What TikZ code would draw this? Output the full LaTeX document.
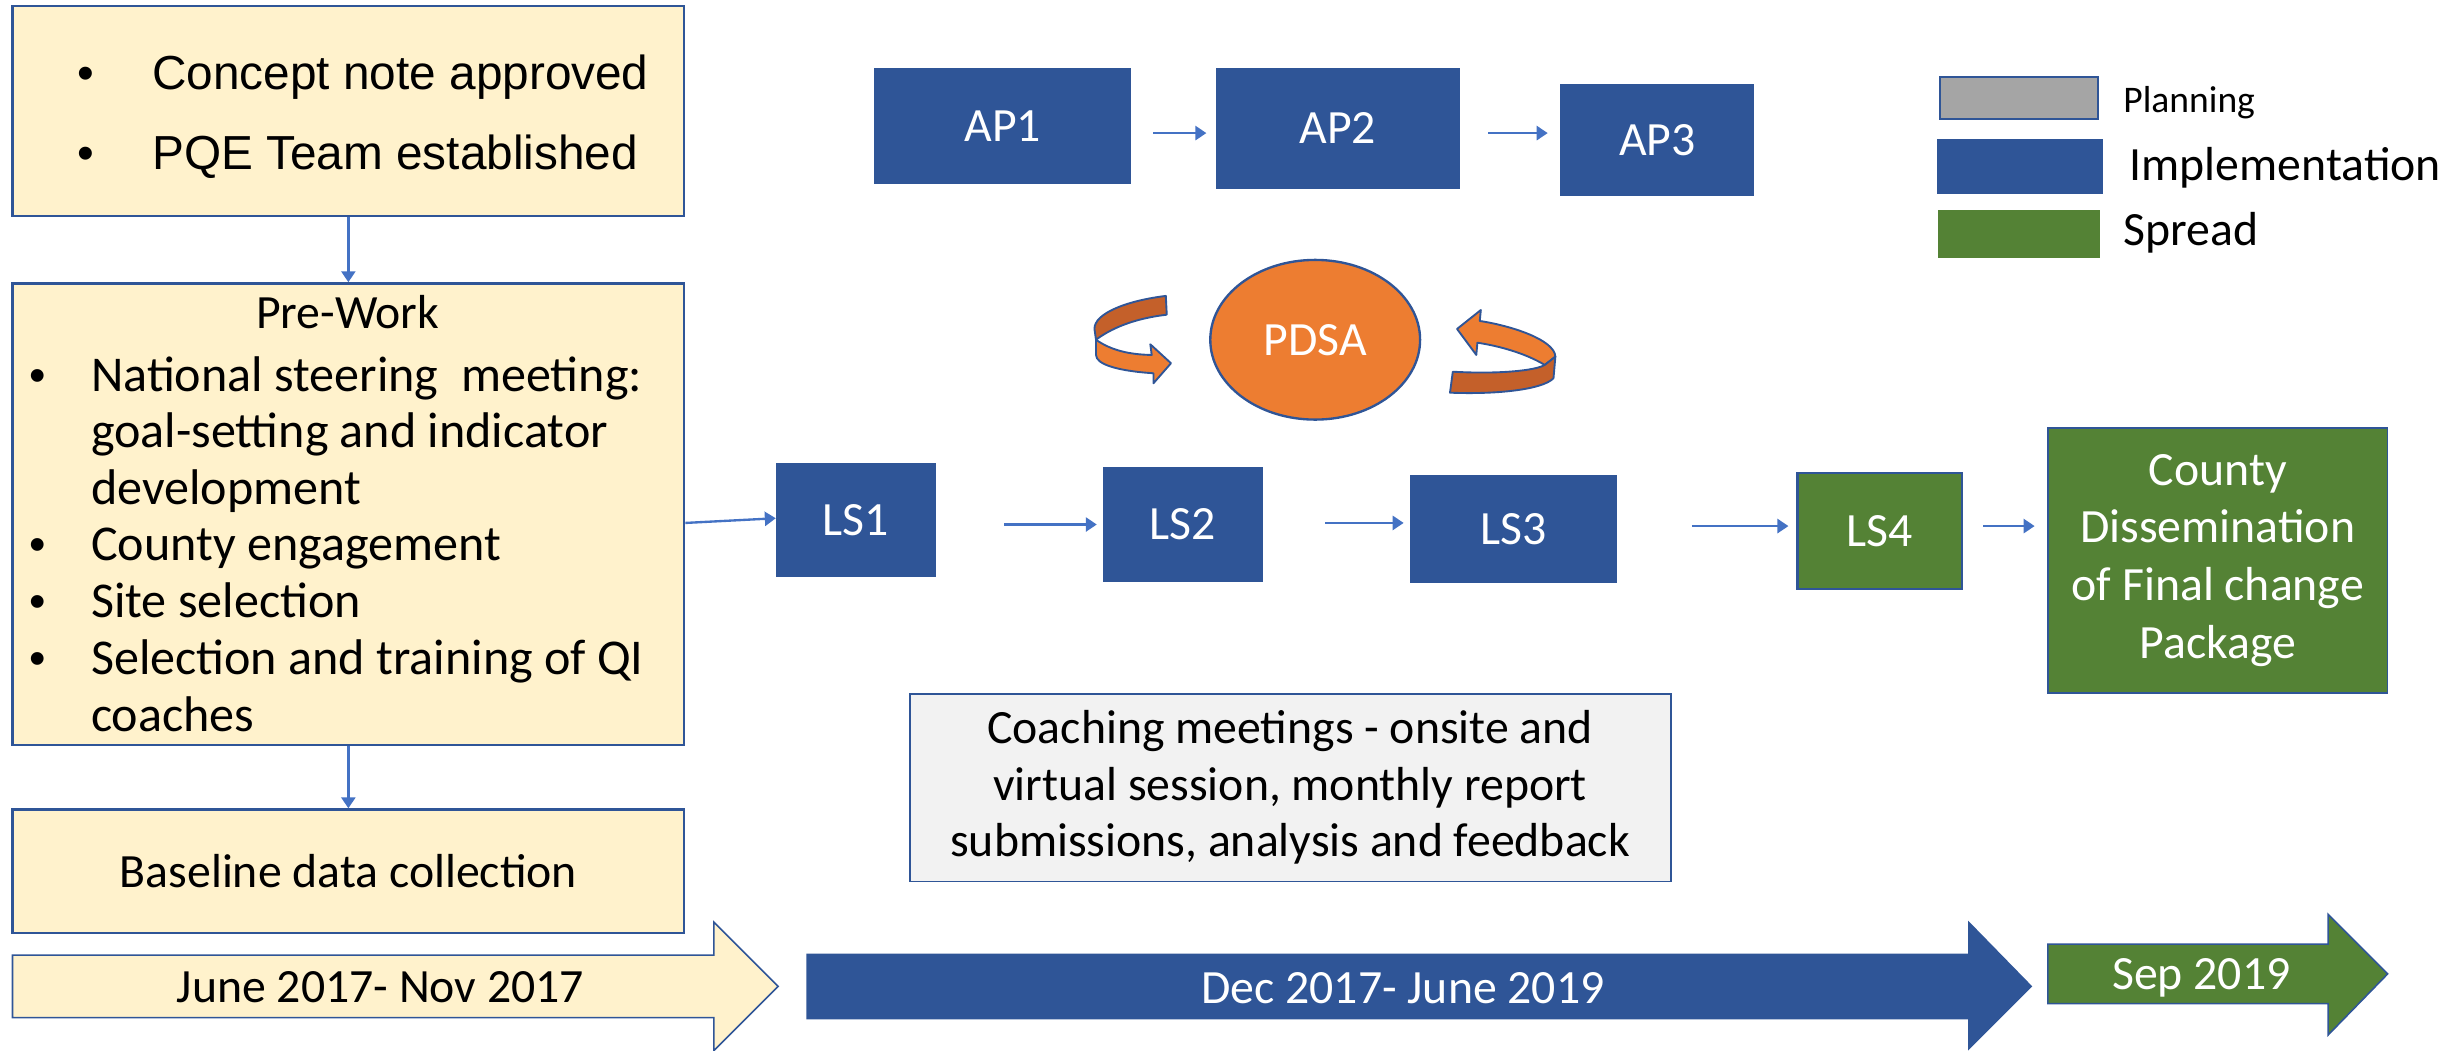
\documentclass[tikz,border=0pt]{standalone}
\usepackage{fontspec}
\setmainfont{Carlito}
\newfontfamily\arialfont{Liberation Sans}
\usetikzlibrary{arrows.meta,shapes.geometric}
\definecolor{cream}{HTML}{FFF2CC}
\definecolor{navy}{HTML}{2F5597}
\definecolor{linkblue}{HTML}{4472C4}
\definecolor{pdsaorange}{HTML}{ED7D31}
\definecolor{pdsadark}{HTML}{C4602A}
\definecolor{spreadgreen}{HTML}{548235}
\definecolor{plangray}{HTML}{A5A5A5}
\definecolor{coachgray}{HTML}{F2F2F2}
\begin{document}
\begin{tikzpicture}[x=1pt,y=-1pt,
  body/.style={font=\fontsize{30.5}{36}\selectfont},
  listtext/.style={inner sep=0, font=\fontsize{32}{36}\selectfont, anchor=base west},
  listbullet/.style={inner sep=0, font=\arialfont\fontsize{30}{36}\selectfont, anchor=base},
  creambox/.style={draw=navy, fill=cream, line width=1.5pt, inner sep=0},
  implbox/.style={draw=navy, fill=navy, line width=1pt, text=white, body, inner sep=0},
  spreadbox/.style={draw=navy, fill=spreadgreen, line width=1.5pt, text=white, body, inner sep=0},
  conn/.style={draw=linkblue, line width=1.5pt, -{Triangle[length=7pt,width=9pt]}},
  lbl/.style={inner sep=0, body},
  curlfront/.style={fill=pdsaorange, draw=navy, line width=1.2pt, line join=round},
  curlback/.style={fill=pdsadark, draw=navy, line width=1.2pt, line join=round},
  timeline/.style={line width=1pt, line join=miter},
]
\useasboundingbox (0,0) rectangle (1568,671);

% ---- planning column ----
\node[creambox, minimum width=429pt, minimum height=134pt] (concept) at (222.5,71) {};
\node[lbl, font=\arialfont\fontsize{30.5}{36}\selectfont, anchor=base] (b1) at (55,57) {\textbullet};
\node[lbl, font=\arialfont\fontsize{30.5}{36}\selectfont, anchor=base west] (t1) at (97,57) {Concept note approved};
\node[lbl, font=\arialfont\fontsize{30.5}{36}\selectfont, anchor=base] (b2) at (55,108) {\textbullet};
\node[lbl, font=\arialfont\fontsize{30.5}{36}\selectfont, anchor=base west] (t2) at (97,108) {PQE Team established};

\node[creambox, minimum width=429pt, minimum height=295pt] (prework) at (222.5,328.5) {};
\node[lbl, anchor=base] (pwtitle) at (222,210) {Pre-Work};
\node[listbullet] (pb1) at (24,250) {\textbullet};
\node[listtext] (pw1) at (58,250) {National steering\ \ meeting:};
\node[listtext] (pw2) at (58,286) {goal-setting and indicator};
\node[listtext] (pw3) at (58,322) {development};
\node[listbullet] (pb2) at (24,358) {\textbullet};
\node[listtext] (pw4) at (58,358) {County engagement};
\node[listbullet] (pb3) at (24,394.5) {\textbullet};
\node[listtext] (pw5) at (58,394.5) {Site selection};
\node[listbullet] (pb4) at (24,431) {\textbullet};
\node[listtext] (pw6) at (58,431) {Selection and training of QI};
\node[listtext] (pw7) at (58,467) {coaches};

\node[creambox, body, minimum width=429pt, minimum height=79pt] (baseline) at (222.5,556.5) {Baseline data collection};

\draw[conn] (concept.south) -- (prework.north);
\draw[conn] (prework.south) -- (baseline.north);

% ---- action periods ----
\node[implbox, minimum width=163pt, minimum height=73pt] (ap1) at (640.5,80.5) {AP1};
\node[implbox, minimum width=155pt, minimum height=76pt] (ap2) at (854.5,82) {AP2};
\node[implbox, minimum width=123pt, minimum height=71pt] (ap3) at (1058.5,89.5) {AP3};
\draw[conn, shorten <=14pt, shorten >=6pt] (ap1.east |- 0,85) -- (ap2.west |- 0,85);
\draw[conn, shorten <=18pt, shorten >=8pt] (ap2.east |- 0,85) -- (ap3.west |- 0,85);

% ---- PDSA cycle ----
\node[ellipse, draw=navy, fill=pdsaorange, line width=1.5pt, minimum width=134pt, minimum height=102pt,
      inner sep=0, text=white, body] (pdsa) at (840,217) {PDSA};
% left turning arrow
\path[curlback] (744.6,189) .. controls (720,192) and (699,200) .. (699,210)
  -- (700,217) .. controls (712,208) and (728,203) .. (745.2,201) -- cycle;
\path[curlfront] (700,217) .. controls (710,224) and (722,226.5) .. (735.6,226.7)
  -- (734.7,219.9) -- (747.9,232) -- (736.7,244.8) -- (736.7,238.4)
  .. controls (715,237) and (700,233) .. (700,226.7) -- cycle;
% right turning arrow
\path[curlfront] (930.6,210.1) -- (945.8,198) -- (945.1,205)
  .. controls (965,208) and (993,217) .. (993.4,227.8)
  -- (986.6,233.1) .. controls (975,226) and (958,221) .. (943.6,218.9)
  -- (942.9,226.7) -- cycle;
\path[curlback] (993.4,227.8) -- (992.2,241.6)
  .. controls (985,249) and (955,252) .. (926.1,250.8)
  -- (927.9,237.4) .. controls (955,239) and (980,237) .. (986.6,233.1) -- cycle;

% ---- learning sessions ----
\node[implbox, minimum width=101pt, minimum height=72pt] (ls1) at (546.5,332) {LS1};
\node[implbox, minimum width=101pt, minimum height=72pt] (ls2) at (755.5,335) {LS2};
\node[implbox, minimum width=131pt, minimum height=68pt] (ls3) at (966.5,338) {LS3};
\node[spreadbox, minimum width=105pt, minimum height=74pt] (ls4) at (1200.5,339) {LS4};
\node[spreadbox, line width=1pt, minimum width=217pt, minimum height=169pt, align=center,
      font=\fontsize{30.5}{37}\selectfont] (county) at (1416.5,358)
      {County\\Dissemination\\of Final change\\Package};

\draw[conn] ([yshift=-5.5pt]prework.east) -- ([yshift=1pt]ls1.west);
\draw[conn, shorten <=44pt, shorten >=4pt] (ls1.east |- 0,335) -- (ls2.west |- 0,335);
\draw[conn, shorten <=40pt, shorten >=4pt] (ls2.east |- 0,334) -- (ls3.west |- 0,334);
\draw[conn, shorten <=48pt, shorten >=5pt] (ls3.east |- 0,336) -- (ls4.west |- 0,336);
\draw[conn, shorten <=13pt, shorten >=8pt] (ls4.east |- 0,336) -- (county.west |- 0,336);

% ---- coaching ----
\node[draw=navy, fill=coachgray, line width=1.2pt, minimum width=486pt, minimum height=120pt,
      inner sep=0, align=center, body] (coach) at (824,503)
      {Coaching meetings - onsite and\\virtual session, monthly report\\submissions, analysis and feedback};

% ---- legend ----
\node[draw=navy, fill=plangray, line width=1.2pt, minimum width=101pt, minimum height=27pt, inner sep=0] (kplan) at (1289.5,62.5) {};
\node[fill=navy, minimum width=106pt, minimum height=35pt, inner sep=0] (kimpl) at (1290,106.5) {};
\node[fill=spreadgreen, minimum width=103pt, minimum height=31pt, inner sep=0] (kspread) at (1289.5,149.5) {};
\node[lbl, font=\fontsize{24}{28}\selectfont, anchor=base west] (lplan) at (1356,72) {Planning};
\node[lbl, anchor=base west] (limpl) at (1360,115) {Implementation};
\node[lbl, anchor=base west] (lspread) at (1356,157) {Spread};

% ---- timeline ----
\path[timeline, fill=cream, draw=navy] (8,610) -- (456,610) -- (456,589) -- (497,630)
  -- (456,671) -- (456,650) -- (8,650) -- cycle;
\path[timeline, fill=navy] (515,609) -- (1257,609) -- (1257,588) -- (1298,630)
  -- (1257,671) -- (1257,651) -- (515,651) -- cycle;
\path[timeline, fill=spreadgreen, draw=navy] (1308,603) -- (1487,603) -- (1487,584) -- (1525,622)
  -- (1487,661) -- (1487,641) -- (1308,641) -- cycle;
\node[lbl, anchor=base] (d1) at (243,640) {June 2017- Nov 2017};
\node[lbl, anchor=base, text=white] (d2) at (896,641) {Dec 2017- June 2019};
\node[lbl, anchor=base, text=white] (d3) at (1406,632) {Sep 2019};
\end{tikzpicture}
\end{document}
